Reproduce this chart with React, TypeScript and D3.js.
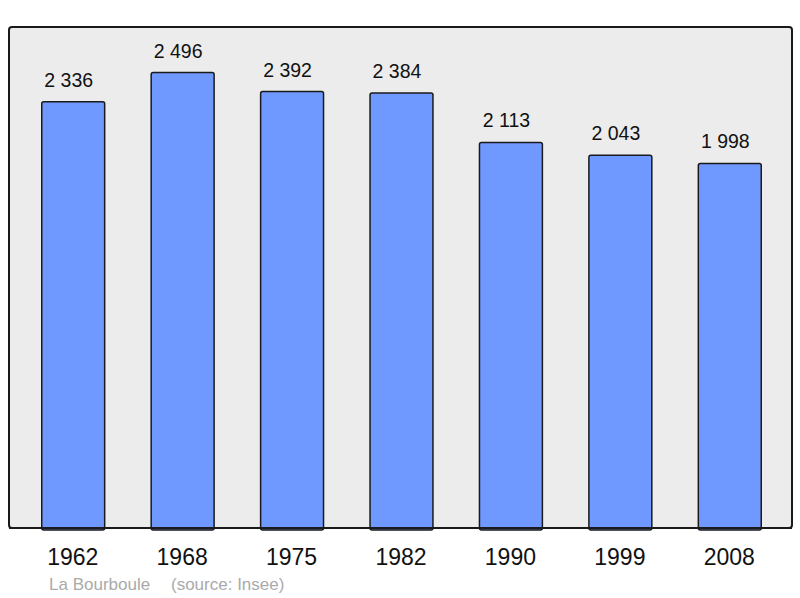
import React, { useRef, useEffect } from "react";
import * as d3 from "d3";

const years = ["1962", "1968", "1975", "1982", "1990", "1999", "2008"];
const population = [2336, 2496, 2392, 2384, 2113, 2043, 1998];
const valueLabels = ["2 336", "2 496", "2 392", "2 384", "2 113", "2 043", "1 998"];
const commune = "La Bourboule";
const source = "(source: Insee)";

const App = () => {
  const svgRef = useRef<SVGSVGElement>(null);

  useEffect(() => {
    const svg = d3.select(svgRef.current);
    svg.selectAll("*").remove();

    const width = 800;
    const height = 598;
    const panel = { x: 9, y: 27, w: 783, h: 501 };
    const font = "'Liberation Sans', Arial, sans-serif";

    svg.attr("width", width).attr("height", height);

    // background panel
    svg.append("rect")
      .attr("x", panel.x)
      .attr("y", panel.y)
      .attr("width", panel.w)
      .attr("height", panel.h)
      .attr("rx", 3)
      .attr("fill", "#ececec")
      .attr("stroke", "#1a1a1a")
      .attr("stroke-width", 2);

    const x = d3.scaleBand().domain(years).range([18, 784]).padding(0);
    const y = d3.scaleLinear()
      .domain([0, d3.max(population)! * 1.1])
      .range([panel.y + panel.h, panel.y]);

    const barW = x.bandwidth() * 0.575;
    const data = years.map((yr, i) => ({ yr, v: population[i], label: valueLabels[i] }));

    const g = svg.append("g");

    g.selectAll("rect.bar")
      .data(data)
      .enter()
      .append("rect")
      .attr("class", "bar")
      .attr("x", d => x(d.yr)! + (x.bandwidth() - barW) / 2 + 0.5)
      .attr("y", d => y(d.v))
      .attr("width", barW)
      .attr("height", d => y(0) - y(d.v) + 2)
      .attr("rx", 2)
      .attr("fill", "#7099ff")
      .attr("stroke", "#1a1a1a")
      .attr("stroke-width", 1.5);

    // redraw panel bottom border over bars
    svg.append("line")
      .attr("x1", panel.x)
      .attr("x2", panel.x + panel.w)
      .attr("y1", panel.y + panel.h)
      .attr("y2", panel.y + panel.h)
      .attr("stroke", "#1a1a1a")
      .attr("stroke-width", 2);

    // value labels
    g.selectAll("text.val")
      .data(data)
      .enter()
      .append("text")
      .attr("class", "val")
      .attr("x", d => x(d.yr)! + x.bandwidth() / 2 - 4)
      .attr("y", d => y(d.v) - 15)
      .attr("text-anchor", "middle")
      .attr("font-family", font)
      .attr("font-size", "19.5px")
      .attr("fill", "#111")
      .text(d => d.label);

    // year labels
    g.selectAll("text.year")
      .data(data)
      .enter()
      .append("text")
      .attr("class", "year")
      .attr("x", d => x(d.yr)! + x.bandwidth() / 2)
      .attr("y", 565)
      .attr("text-anchor", "middle")
      .attr("font-family", font)
      .attr("font-size", "23px")
      .attr("fill", "#111")
      .text(d => d.yr);

    svg.append("text")
      .attr("x", 49)
      .attr("y", 590)
      .attr("font-family", font)
      .attr("font-size", "17px")
      .attr("fill", "#aaaaaa")
      .text(commune);

    svg.append("text")
      .attr("x", 171)
      .attr("y", 590)
      .attr("font-family", font)
      .attr("font-size", "17px")
      .attr("fill", "#aaaaaa")
      .text(source);
  }, []);

  return (
    <div style={{ position: "absolute", left: 0, top: 0 }}>
      <svg ref={svgRef}></svg>
    </div>
  );
};

export default App;
